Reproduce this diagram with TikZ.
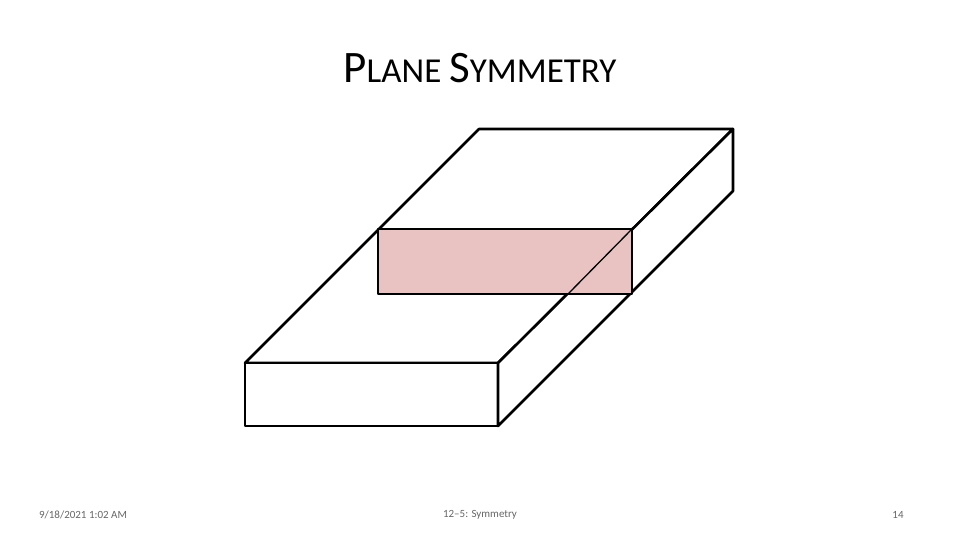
\documentclass[tikz,border=0pt]{standalone}
\usepackage{fontspec}
\setmainfont{Carlito}
\definecolor{pinkfill}{RGB}{233,194,194}
\begin{document}
\begin{tikzpicture}[x=1pt,y=-1pt,
  edge/.style={draw=black,line width=2.6pt,line join=round},
  foot/.style={font=\fontsize{11}{13}\selectfont,text=gray!80!black}]
\useasboundingbox (0,0) rectangle (960,540);
\coordinate (a) at (245,363);
\coordinate (b) at (498,363);
\coordinate (c) at (733,129);
\coordinate (d) at (479,129);
\coordinate (e) at (498,426);
\coordinate (f) at (245,426);
\coordinate (g) at (733,191);
\filldraw[edge,fill=white] (a) -- (b) -- (c) -- (d) -- cycle;
\filldraw[edge,fill=white] (a) rectangle (e);
\filldraw[edge,fill=white] (b) -- (c) -- (g) -- (e) -- cycle;
\node[edge,fill=pinkfill,minimum width=254pt,minimum height=65pt,inner sep=0pt] (p) at (505,261.5) {};
\draw[line width=1.3pt] (568,294) -- (632,229);
\node (t) at (480,68) {\fontsize{45}{50}\selectfont P\fontsize{35}{40}\selectfont LANE \fontsize{45}{50}\selectfont S\fontsize{35}{40}\selectfont YMMETRY};
\node[foot] (f1) at (83,515) {9/18/2021 1:02 AM};
\node[foot] (f2) at (480,515) {12–5: Symmetry};
\node[foot] (f3) at (898,515) {14};
\end{tikzpicture}
\end{document}
